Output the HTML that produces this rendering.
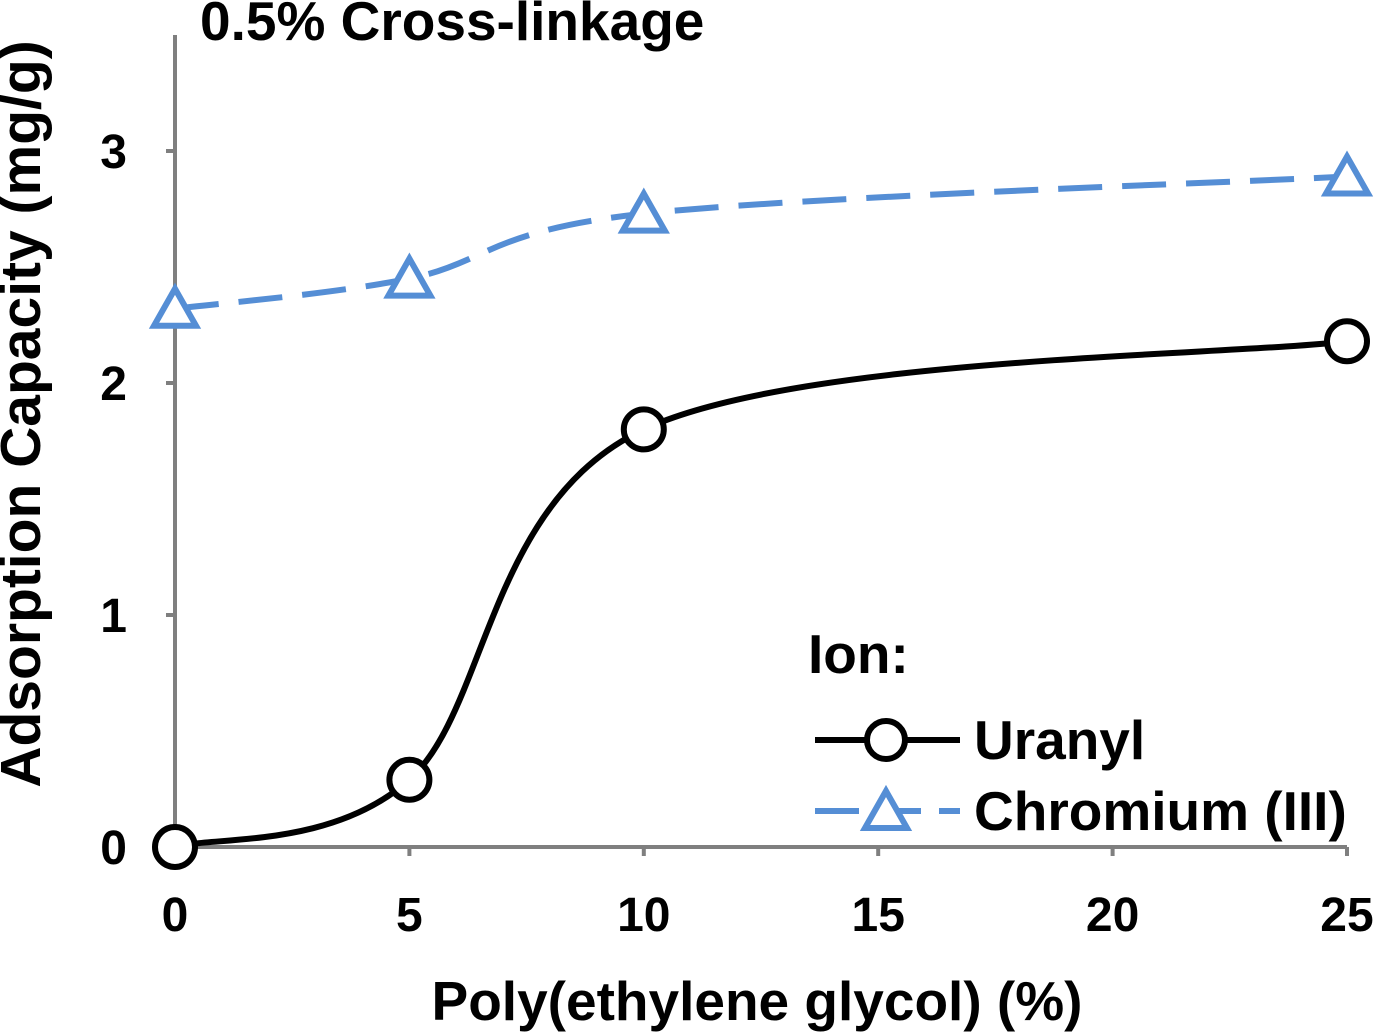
<!DOCTYPE html>
<html><head><meta charset="utf-8"><style>
html,body{margin:0;padding:0;background:#fff;}
svg{display:block;font-family:"Liberation Sans",Arial,sans-serif;font-weight:bold;}
</style></head><body>
<svg id="chart" width="1378" height="1033" viewBox="0 0 1378 1033">
<g id="axes"></g>
<g id="series"></g>
<text x="200" y="40" font-size="55" fill="#000">0.5% Cross-linkage</text>
<text x="757" y="1020" font-size="55" fill="#000" text-anchor="middle">Poly(ethylene glycol) (%)</text>
<text transform="translate(40,414) rotate(-90)" font-size="57" fill="#000" text-anchor="middle">Adsorption Capacity (mg/g)</text>
<g>
<text x="808" y="673" font-size="55" fill="#000">Ion:</text>
<g>
<line x1="815" y1="740" x2="960" y2="740" stroke="#000" stroke-width="6"/>
<circle cx="886" cy="740" r="19" fill="#fff" stroke="#000" stroke-width="6"/>
<text x="974" y="759" font-size="55" fill="#000">Uranyl</text>
</g>
<g>
<line x1="815" y1="811" x2="960" y2="811" stroke="#558ED5" stroke-width="6" stroke-dasharray="44,18"/>
<polygon points="886,791 907,828 865,828" fill="#fff" stroke="#558ED5" stroke-width="6"/>
<text x="974" y="830" font-size="55" fill="#000">Chromium (III)</text>
</g>
</g>
</svg>
<script>
const xCategories = [0, 5, 10, 25];
const uranylValues = [0, 0.29, 1.80, 2.18];
const chromiumValues = [2.32, 2.45, 2.73, 2.89];
const xTicks = [0, 5, 10, 15, 20, 25];
const yTicks = [0, 1, 2, 3];

const NS = "http://www.w3.org/2000/svg";
const X0 = 175, X1 = 1347, Y0 = 847, Y3 = 151;
function xs(v){ return X0 + (v - 0) / 25 * (X1 - X0); }
function ys(v){ return Y0 - v / 3 * (Y0 - Y3); }
function mk(tag, attrs, parent){
  const e = document.createElementNS(NS, tag);
  for (const k in attrs) e.setAttribute(k, attrs[k]);
  parent.appendChild(e); return e;
}
const axes = document.getElementById('axes');
const series = document.getElementById('series');
const gray = "#7F7F7F";
let yAxis = mk('line', {x1:X0, y1:ys(3.5), x2:X0, y2:Y0, stroke:gray, 'stroke-width':4}, axes);


let xAxis = mk('line', {x1:X0, y1:Y0, x2:X1, y2:Y0, stroke:gray, 'stroke-width':4}, axes);


xTicks.forEach(t => {
  mk('line', {x1:xs(t), y1:Y0, x2:xs(t), y2:Y0+9, stroke:gray, 'stroke-width':4}, axes);
  const tx = mk('text', {x:xs(t), y:931, 'font-size':48, 'text-anchor':'middle', fill:'#000'}, axes);
  tx.textContent = t;
  
  
});
yTicks.forEach(t => {
  mk('line', {x1:X0-9, y1:ys(t), x2:X0, y2:ys(t), stroke:gray, 'stroke-width':4}, axes);
  const tx = mk('text', {x:127, y:ys(t)+17, 'font-size':48, 'text-anchor':'end', fill:'#000'}, axes);
  tx.textContent = t;
  
  
});
function smoothPath(pts){
  let d = `M${pts[0][0]},${pts[0][1]}`;
  for (let i = 0; i < pts.length - 1; i++){
    const p0 = pts[Math.max(0,i-1)], p1 = pts[i], p2 = pts[i+1], p3 = pts[Math.min(pts.length-1,i+2)];
    const c1 = [p1[0] + (p2[0]-p0[0])/6, p1[1] + (p2[1]-p0[1])/6];
    const c2 = [p2[0] - (p3[0]-p1[0])/6, p2[1] - (p3[1]-p1[1])/6];
    d += ` C${c1[0]},${c1[1]} ${c2[0]},${c2[1]} ${p2[0]},${p2[1]}`;
  }
  return d;
}
const uPts = xCategories.map((x,i)=>[xs(x), ys(uranylValues[i])]);
const cPts = xCategories.map((x,i)=>[xs(x), ys(chromiumValues[i])]);
const cLine = mk('path', {d:smoothPath(cPts), fill:'none', stroke:'#558ED5', 'stroke-width':6, 'stroke-dasharray':'44,20'}, series);


const uLine = mk('path', {d:smoothPath(uPts), fill:'none', stroke:'#000', 'stroke-width':6}, series);


uPts.forEach(p => {
  const c = mk('circle', {cx:p[0], cy:p[1], r:20, fill:'#fff', stroke:'#000', 'stroke-width':6}, series);
  
  
});
cPts.forEach(p => {
  const t = mk('polygon', {points:`${p[0]},${p[1]-20} ${p[0]+21},${p[1]+17} ${p[0]-21},${p[1]+17}`, fill:'#fff', stroke:'#558ED5', 'stroke-width':6}, series);
  
  
});
</script>
</body></html>
